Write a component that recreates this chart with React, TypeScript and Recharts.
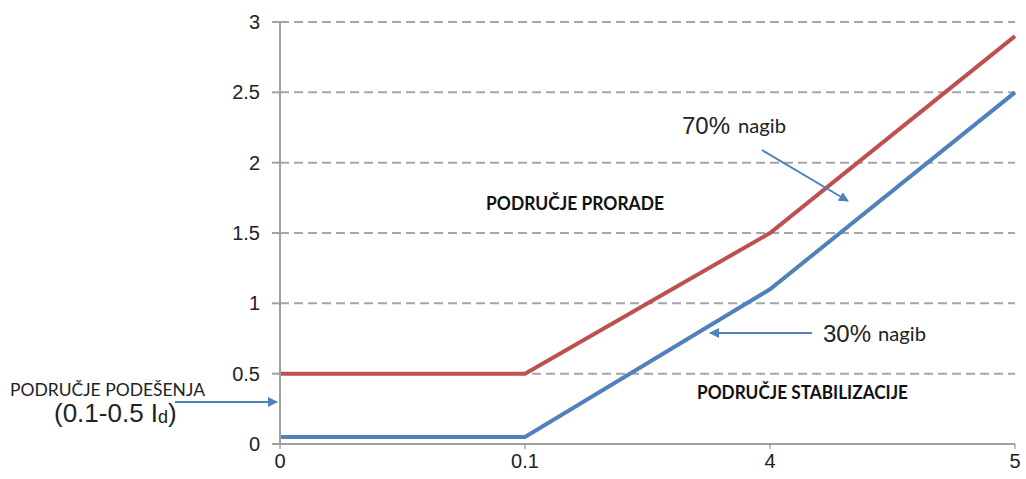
import React from 'react';
import { LineChart, Line, XAxis, YAxis, CartesianGrid } from 'recharts';

const categories = ['0', '0.1', '4', '5'];
const redValues = [0.5, 0.5, 1.5, 2.9];
const blueValues = [0.05, 0.05, 1.1, 2.5];
const yTicks = [0, 0.5, 1, 1.5, 2, 2.5, 3];

const data = categories.map((c, i) => ({ x: c, red: redValues[i], blue: blueValues[i] }));

const ARIAL = '"Liberation Sans", Arial, sans-serif';
const CAL = 'Lato, "Open Sans", sans-serif';
const BLUE = '#4F81BD';
const RED = '#C0504D';

export default function App() {
  return (
    <div style={{ position: 'absolute', left: 0, top: 0, width: 1026, height: 479, background: '#fff' }}>
      <LineChart
        width={1026}
        height={479}
        data={data}
        margin={{ top: 22, right: 11, left: 0, bottom: 5 }}
      >
        <CartesianGrid vertical={false} stroke="#a6a6a6" strokeWidth={2} strokeDasharray="9 5" />
        <XAxis
          dataKey="x"
          height={30}
          axisLine={{ stroke: '#a0a0a0', strokeWidth: 2 }}
          tickLine={{ stroke: '#808080', strokeWidth: 1 }}
          tickSize={5}
          tickMargin={5}
          tick={{ fill: '#222', fontSize: 20, fontFamily: ARIAL }}
          interval={0}
        />
        <YAxis
          width={280}
          domain={[0, 3]}
          ticks={yTicks}
          axisLine={{ stroke: '#a0a0a0', strokeWidth: 2 }}
          tickLine={{ stroke: '#a0a0a0', strokeWidth: 2 }}
          tickSize={8}
          tickMargin={12}
          tick={{ fill: '#222', fontSize: 20, fontFamily: ARIAL }}
        />
        <Line type="linear" dataKey="red" stroke={RED} strokeWidth={4} dot={false} isAnimationActive={false} />
        <Line type="linear" dataKey="blue" stroke={BLUE} strokeWidth={4} dot={false} isAnimationActive={false} />
      </LineChart>
      <svg
        width={1026}
        height={479}
        style={{ position: 'absolute', left: 0, top: 0, pointerEvents: 'none' }}
      >
        <defs>
          <marker id="ah" viewBox="0 0 10 10" refX="9" refY="5" markerWidth="5" markerHeight="5" orient="auto" markerUnits="strokeWidth">
            <path d="M0,0 L10,5 L0,10 z" fill={BLUE} />
          </marker>
        </defs>
        <text x={486} y={210} textLength={178} lengthAdjust="spacingAndGlyphs" fontFamily={CAL} fontWeight={700} fontSize={18} fill="#111">
          PODRUČJE PRORADE
        </text>
        <text x={697} y={399} textLength={211} lengthAdjust="spacingAndGlyphs" fontFamily={CAL} fontWeight={700} fontSize={18} fill="#111">
          PODRUČJE STABILIZACIJE
        </text>
        <text x={682} y={134} fontFamily={ARIAL} fontSize={24} fill="#222">70%</text>
        <text x={738} y={133} textLength={48} lengthAdjust="spacingAndGlyphs" fontFamily={CAL} fontSize={19} fill="#222">nagib</text>
        <text x={823} y={342} fontFamily={ARIAL} fontSize={24} fill="#222">30%</text>
        <text x={878} y={341} textLength={48} lengthAdjust="spacingAndGlyphs" fontFamily={CAL} fontSize={19} fill="#222">nagib</text>
        <text x={10} y={396} textLength={195} lengthAdjust="spacingAndGlyphs" fontFamily={CAL} fontSize={18} fill="#222">
          PODRUČJE PODEŠENJA
        </text>
        <text x={54} y={422} fontFamily={ARIAL} fontSize={26} fill="#222">
          (0.1-0.5 I<tspan fontSize={18} dy={1}>d</tspan><tspan dy={-1}>)</tspan>
        </text>
        <line x1={175} y1={402} x2={277} y2={402} stroke={BLUE} strokeWidth={2} markerEnd="url(#ah)" />
        <line x1={762} y1={150} x2={848} y2={201} stroke={BLUE} strokeWidth={2} markerEnd="url(#ah)" />
        <line x1={812} y1={333} x2={710} y2={333} stroke={BLUE} strokeWidth={2} markerEnd="url(#ah)" />
      </svg>
    </div>
  );
}
